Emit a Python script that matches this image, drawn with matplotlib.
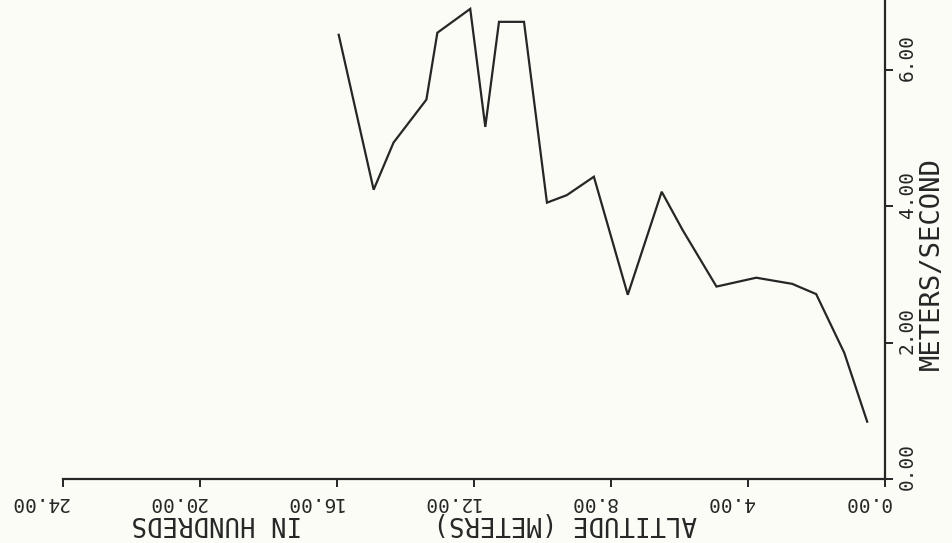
import matplotlib
matplotlib.use("Agg")
import matplotlib.pyplot as plt
from matplotlib.transforms import ScaledTranslation

# Data (altitude in hundreds of meters, wind speed in m/s)
altitude = [15.95, 14.93, 14.35, 13.39, 13.07, 12.11, 11.67, 11.27, 10.54, 9.87,
            9.29, 8.50, 7.51, 6.52, 5.91, 4.92, 3.76, 2.71, 2.01, 1.19, 0.52]
speed = [6.51, 4.24, 4.93, 5.56, 6.54, 6.89, 5.16, 6.70, 6.70, 4.05,
         4.16, 4.43, 2.70, 4.21, 3.65, 2.82, 2.95, 2.86, 2.71, 1.85, 0.84]
x_ticks = [0, 4, 8, 12, 16, 20, 24]
x_tick_labels = ["0.00", "4.00", "8.00", "12.00", "16.00", "20.00", "24.00"]
y_ticks = [0, 2, 4, 6]
y_tick_labels = ["0.00", "2.00", "4.00", "6.00"]
x_label_parts = ["ALTITUDE (METERS)", "IN HUNDREDS"]
y_label = "METERS/SECOND"

bg = "#fcfcf6"
ink = "#262626"
font = "DejaVu Sans Mono"

fig = plt.figure(figsize=(9.52, 5.43), dpi=100, facecolor=bg)
ax = fig.add_axes([63 / 952, 1 - 479 / 543, (885 - 63) / 952, 479 / 543])
ax.set_facecolor(bg)

ax.plot(altitude, speed, color=ink, lw=1.6, solid_joinstyle="miter")

ax.set_xlim(24, 0)
ax.set_ylim(0, 7.02)

for s in ["left", "top"]:
    ax.spines[s].set_visible(False)
for s in ["bottom", "right"]:
    ax.spines[s].set_color(ink)
    ax.spines[s].set_linewidth(1.6)

ax.yaxis.tick_right()
ax.set_xticks(x_ticks)
ax.set_xticklabels(x_tick_labels, rotation=180, fontfamily=font, fontsize=14,
                   color=ink, ha="right")
ax.set_yticks(y_ticks)
ax.set_yticklabels(y_tick_labels, rotation=90, fontfamily=font, fontsize=14,
                   color=ink, va="center")
ax.tick_params(axis="both", direction="out", length=6, width=1.4, color=ink)
ax.tick_params(axis="x", pad=4)
ax.tick_params(axis="y", pad=3)

for lab in ax.get_xticklabels():
    lab.set_transform(lab.get_transform() + ScaledTranslation(6 / 100, 0, fig.dpi_scale_trans))
for lab in ax.get_yticklabels():
    lab.set_transform(lab.get_transform() + ScaledTranslation(0, 12 / 100, fig.dpi_scale_trans))

# x-axis title (upside down, two phrases as in the original plot)
for text, cx in zip(x_label_parts, [565, 217]):
    ax.text((cx - 63) / 822, (479 - 523) / 479, text, transform=ax.transAxes,
            rotation=180, ha="center", va="center", fontfamily=font, fontsize=18.5,
            color=ink)
ax.text((932 - 63) / 822, (479 - 264) / 479, y_label, transform=ax.transAxes,
        rotation=90, ha="center", va="center", fontfamily=font, fontsize=19.5,
        color=ink)

fig.savefig("out.png", dpi=100, facecolor=bg)
